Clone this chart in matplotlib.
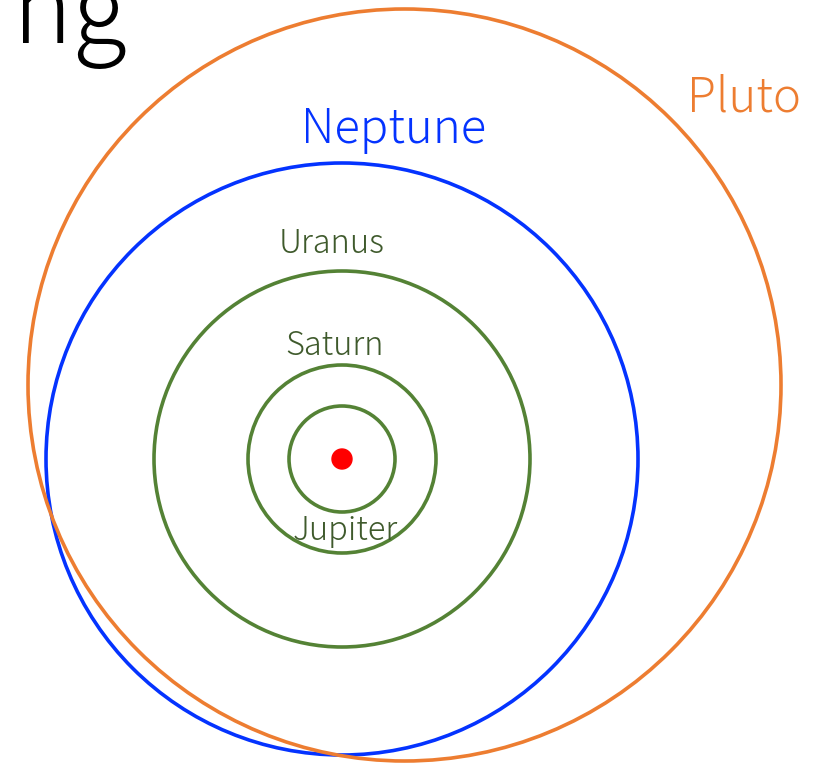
import matplotlib.pyplot as plt
from matplotlib.patches import Circle, Ellipse

# orbit sizes as drawn (pixels), sun at the centre
planets = ['Jupiter', 'Saturn', 'Uranus', 'Neptune']
radii = [53, 94, 188, 296]
colors = ['#548235', '#548235', '#548235', '#0433FF']
sun = (342, 459)

# pluto is an off-centre ellipse
pluto_center = (404.5, 385)
pluto_size = (753, 752)

labels = ['Jupiter', 'Saturn', 'Uranus', 'Neptune', 'Pluto']
label_pos = [(345, 540), (335, 355), (332, 253), (394, 143), (744, 112)]
label_size = [23.5, 23.5, 23.5, 34, 34]
label_color = ['#3F5A2C', '#3F5A2C', '#3F5A2C', '#0433FF', '#ED7D31']

plt.rcParams['font.family'] = ['Noto Sans CJK JP', 'DejaVu Sans']

fig = plt.figure(figsize=(8.13, 7.63), dpi=100)
ax = fig.add_axes([0, 0, 1, 1])
ax.set_xlim(0, 813)
ax.set_ylim(763, 0)
ax.set_aspect('equal')
ax.axis('off')

for r, c in zip(radii, colors):
    ax.add_patch(Circle(sun, r, fill=False, edgecolor=c, linewidth=2.6))

ax.add_patch(Ellipse(pluto_center, pluto_size[0], pluto_size[1], fill=False,
                     edgecolor='#ED7D31', linewidth=2.6))

ax.add_patch(Circle(sun, 10, color='#FF0000'))

for name, (x, y), s, c in zip(labels, label_pos, label_size, label_color):
    ax.text(x, y, name, fontsize=s, color=c, ha='center', va='baseline',
            fontweight='light')

# big title, mostly cut off at the top
ax.text(127, 43, 'ng', fontsize=72, color='black', ha='right',
        va='baseline', fontweight='light')

fig.savefig('out.png', dpi=100)
